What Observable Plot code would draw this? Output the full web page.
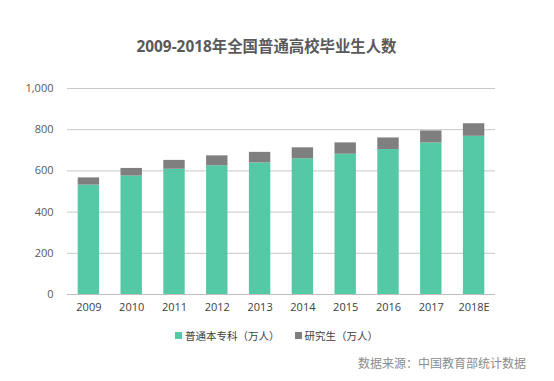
<!DOCTYPE html>
<html>
<head>
<meta charset="utf-8">
<script src="https://cdn.jsdelivr.net/npm/d3@7"></script>
<script src="https://cdn.jsdelivr.net/npm/@observablehq/plot@0.6"></script>
<style>
  body { margin: 0; background: #fff; font-family: "Open Sans", "Noto Sans CJK SC", sans-serif; }
  #wrap { position: relative; width: 554px; height: 381px; overflow: hidden; }
  #title { position: absolute; left: 0; width: 533px; top: 34px; text-align: center; font-size: 15.4px; font-weight: bold; color: #595959; font-family: "Open Sans", "Noto Sans CJK SC", sans-serif; }
  #legend { position: absolute; top: 328px; left: 175px; font-size: 10.5px; color: #404040; font-family: "Noto Sans CJK SC", sans-serif; white-space: nowrap; }
  .sw { display: inline-block; width: 7px; height: 7px; margin-right: 3px; vertical-align: 1px; }
  #source { position: absolute; top: 354px; left: 358px; font-size: 12px; color: #8c8c8c; font-family: "Noto Sans CJK SC", sans-serif; white-space: nowrap; }
  #chart { position: absolute; left: 0; top: 0; }
</style>
</head>
<body>
<div id="wrap">
  <div id="chart"></div>
  <div id="title">2009-2018年全国普通高校毕业生人数</div>
  <div id="legend"></div>
  <div id="source">数据来源：中国教育部统计数据</div>
</div>
<script>
const years = ["2009","2010","2011","2012","2013","2014","2015","2016","2017","2018E"];
const undergrad = [531, 575, 608, 625, 639, 659, 681, 704, 736, 768];
const postgrad = [35, 37, 43, 48, 51, 53, 55, 56, 58, 61];
const seriesNames = ["普通本专科（万人）", "研究生（万人）"];
const seriesColors = ["#55c8a5", "#7f7f7f"];
const yTicks = [0, 200, 400, 600, 800, 1000];

const rows = [];
years.forEach((y, i) => {
  rows.push({year: y, series: seriesNames[0], value: undergrad[i]});
  rows.push({year: y, series: seriesNames[1], value: postgrad[i]});
});

const chart = Plot.plot({
  width: 554,
  height: 381,
  marginLeft: 67,
  marginRight: 59,
  marginTop: 88,
  marginBottom: 87,
  style: { fontFamily: '"Open Sans", "Noto Sans CJK SC", sans-serif', fontSize: "11px", color: "#595959", background: "transparent" },
  x: { domain: years, paddingInner: 0.5, paddingOuter: 0.25, round: false, label: null },
  y: { domain: [0, 1000], label: null },
  color: { domain: seriesNames, range: seriesColors },
  marks: [
    Plot.ruleY(yTicks.filter(d => d > 0), { stroke: "#c8c8c8", strokeWidth: 1 }),
    Plot.barY(rows, { x: "year", y: "value", fill: "series", order: seriesNames }),
    Plot.ruleY([0], { stroke: "#bfbfbf", strokeWidth: 1 }),
    Plot.axisY({ ticks: yTicks, tickFormat: d3.format(","), tickSize: 0, tickPadding: 14, label: null, fill: "#595959" }),
    Plot.axisX({ tickSize: 0, tickPadding: 9, label: null, fill: "#404040" })
  ]
});
document.getElementById("chart").appendChild(chart);

const legend = document.getElementById("legend");
seriesNames.forEach((n, i) => {
  const s = document.createElement("span");
  s.style.marginRight = "15px";
  s.innerHTML = `<span class="sw" style="background:${seriesColors[i]}"></span>${n}`;
  legend.appendChild(s);
});
</script>
</body>
</html>
